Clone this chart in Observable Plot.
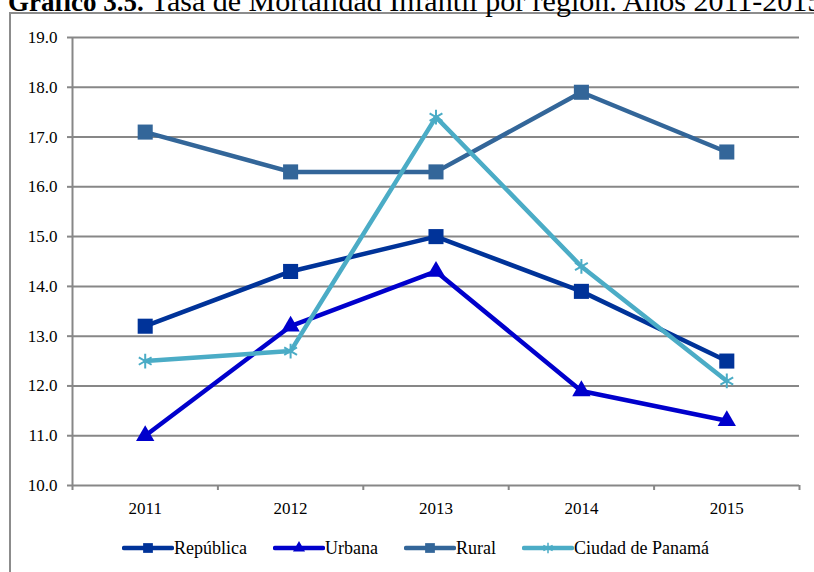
<!DOCTYPE html>
<html>
<head>
<meta charset="utf-8">
<script src="https://cdn.jsdelivr.net/npm/d3@7"></script>
<script src="https://cdn.jsdelivr.net/npm/@observablehq/plot@0.6"></script>
<style>
html, body { margin: 0; padding: 0; width: 814px; height: 572px; overflow: hidden; background: #fff; }
body { font-family: "Liberation Serif", "Times New Roman", serif; color: #000; position: relative; }
#frame { position: absolute; left: 9px; top: 12px; width: 900px; height: 700px; border: 2px solid #8c8c8c; box-sizing: border-box; }
#title { position: absolute; left: 8px; top: -14px; font-size: 30px; line-height: 30px; white-space: nowrap; font-family: "Liberation Serif", serif; }
#title b { font-size: 27px; }
#chart { position: absolute; left: 0; top: 0; }
#chart svg, #chart svg text { font-family: "Liberation Serif", "Times New Roman", serif !important; }
#legend { position: absolute; left: 122px; top: 538px; height: 20px; display: flex; align-items: center; gap: 26px; font-size: 18px; line-height: 20px; white-space: nowrap; font-family: "Liberation Serif", serif; }
#legend .item { display: flex; align-items: center; }
#legend svg { display: block; }
</style>
</head>
<body>
<div id="frame"></div>
<div id="title"><b>Gráfico 3.5.</b> Tasa de Mortalidad Infantil por región. Años 2011-2015</div>
<div id="chart"></div>
<div id="legend"></div>
<script>
// ---- data ----
const years = [2011, 2012, 2013, 2014, 2015];
const seriesNames = ["República", "Urbana", "Rural", "Ciudad de Panamá"];
const republica = [13.2, 14.3, 15.0, 13.9, 12.5];
const urbana = [11.0, 13.2, 14.3, 11.9, 11.3];
const rural = [17.1, 16.3, 16.3, 17.9, 16.7];
const ciudad = [12.5, 12.7, 17.4, 14.4, 12.1];
const yTicks = [10, 11, 12, 13, 14, 15, 16, 17, 18, 19];

// ---- styles ----
const colors = ["#003399", "#0000cc", "#336699", "#4bacc6"];
const symbols = ["square", "triangle", "square", "asterisk"];
const radii = [8.5, 6.8, 8.5, 7];
const legendRadii = [5.5, 4.5, 5.5, 5];

const values = [republica, urbana, rural, ciudad];
const rows = [];
seriesNames.forEach((s, i) => years.forEach((y, j) => rows.push({series: s, year: y, value: values[i][j]})));

const bounds = years.map(y => y - 0.5).concat([years[years.length - 1] + 0.5]);
const grid = "#878787";

const marks = [
  Plot.ruleY(yTicks.filter(t => t > yTicks[0]), {y: d => d, stroke: grid, strokeWidth: 2}),
  Plot.ruleY([yTicks[0]], {stroke: grid, strokeWidth: 2}),
  Plot.ruleX([bounds[0]], {stroke: grid, strokeWidth: 2}),
  Plot.axisY({ticks: yTicks, tickSize: 5, tickPadding: 10, tickFormat: d => d.toFixed(1), stroke: grid, strokeWidth: 2, fontSize: 17}),
  Plot.axisX({ticks: bounds, tickSize: 5, tickFormat: () => "", stroke: grid, strokeWidth: 2}),
  Plot.axisX({ticks: years, tickSize: 0, tickPadding: 16, tickFormat: d => String(d), fontSize: 17})
];

seriesNames.forEach((s, i) => {
  const data = rows.filter(r => r.series === s);
  marks.push(Plot.line(data, {x: "year", y: "value", stroke: colors[i], strokeWidth: 4.5, strokeLinejoin: "round", strokeLinecap: "round"}));
  if (symbols[i] === "asterisk") {
    marks.push(Plot.dot(data, {x: "year", y: "value", symbol: "asterisk", r: radii[i], stroke: colors[i], strokeWidth: 2, fill: "none"}));
  } else {
    marks.push(Plot.dot(data, {x: "year", y: "value", symbol: symbols[i], r: radii[i], fill: colors[i], stroke: "none"}));
  }
});

const chart = Plot.plot({
  width: 814,
  height: 520,
  marginLeft: 72,
  marginRight: 15,
  marginTop: 37,
  marginBottom: 35,
  style: {fontFamily: "'Liberation Serif', 'Times New Roman', serif", fontSize: "17px", color: "#000", background: "transparent", overflow: "visible"},
  x: {type: "linear", domain: [bounds[0], bounds[bounds.length - 1]], label: null},
  y: {domain: [yTicks[0], yTicks[yTicks.length - 1]], label: null},
  marks
});
document.getElementById("chart").appendChild(chart);

// ---- legend ----
const legend = d3.select("#legend");
seriesNames.forEach((s, i) => {
  const item = legend.append("div").attr("class", "item");
  const svg = item.append("svg").attr("width", 52).attr("height", 20);
  svg.append("line").attr("x1", 2).attr("x2", 50).attr("y1", 10).attr("y2", 10)
    .attr("stroke", colors[i]).attr("stroke-width", 4.5).attr("stroke-linecap", "round");
  const symMap = {square: d3.symbolSquare, triangle: d3.symbolTriangle, asterisk: d3.symbolAsterisk};
  const r = legendRadii[i];
  const path = d3.symbol(symMap[symbols[i]], r * r * Math.PI)();
  const p = svg.append("path").attr("d", path).attr("transform", "translate(26,10)");
  if (symbols[i] === "asterisk") p.attr("fill", "none").attr("stroke", colors[i]).attr("stroke-width", 1.5);
  else p.attr("fill", colors[i]);
  item.append("span").text(s);
});
</script>
</body>
</html>
